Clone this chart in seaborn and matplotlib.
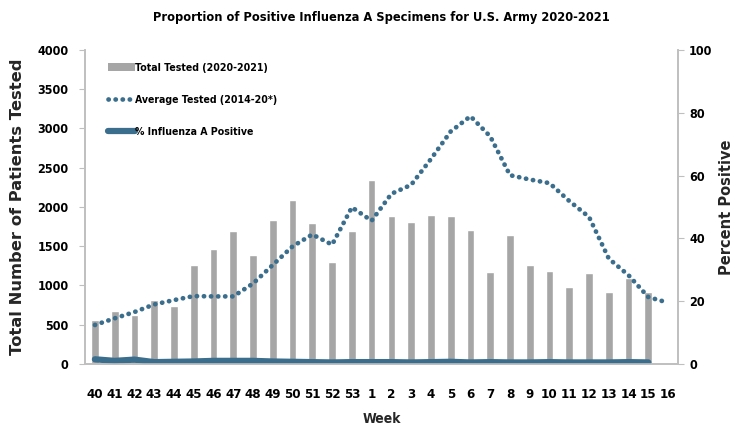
import numpy as np
import pandas as pd
import matplotlib
matplotlib.use('Agg')
import matplotlib.pyplot as plt
from matplotlib.patches import Patch
from matplotlib.lines import Line2D
import seaborn as sns

# Week labels for the 2020-2021 season
weeks = ['40', '41', '42', '43', '44', '45', '46', '47', '48', '49', '50', '51', '52', '53',
         '1', '2', '3', '4', '5', '6', '7', '8', '9', '10', '11', '12', '13', '14', '15', '16']

# Total tested 2020-2021 (no bar for week 16)
total_tested = [557, 671, 624, 810, 734, 1257, 1468, 1696, 1384, 1835, 2093, 1793, 1295, 1700,
                2338, 1886, 1814, 1903, 1882, 1709, 1177, 1641, 1266, 1190, 987, 1160, 911, 1101, 915,
                np.nan]

# Average tested 2014-20
avg_tested = [497, 582, 662, 759, 814, 865, 861, 861, 1025, 1262, 1498, 1650, 1520, 1996,
              1825, 2168, 2282, 2611, 2962, 3156, 2899, 2405, 2350, 2304, 2076, 1873, 1342, 1130, 852,
              781]

# % Influenza A positive (weeks 40-15)
pct_pos = [1.5, 1.0, 1.4, 0.6, 0.7, 0.8, 1.0, 1.0, 1.0, 0.8, 0.7, 0.6, 0.5, 0.6,
           0.6, 0.6, 0.5, 0.6, 0.7, 0.5, 0.6, 0.5, 0.5, 0.6, 0.5, 0.5, 0.5, 0.6, 0.5,
           np.nan]

df = pd.DataFrame({'week': weeks, 'pos': np.arange(len(weeks)),
                   'total': total_tested, 'avg': avg_tested, 'pct': pct_pos})

sns.set_style('white')
plt.rcParams['font.family'] = ['DejaVu Sans']
plt.rcParams['font.stretch'] = 'condensed'
plt.rcParams['text.color'] = 'black'
plt.rcParams['xtick.color'] = 'black'
plt.rcParams['ytick.color'] = 'black'

bar_color = '#A6A6A6'
line_color = '#3B6E8C'
spine_color = '#BFBFBF'

fig = plt.figure(figsize=(7.38, 4.32), dpi=100)
ax = fig.add_axes([0.1152, 0.1574, 0.8035, 0.7269])

sns.barplot(data=df, x='pos', y='total', color=bar_color, width=0.39, saturation=1,
            order=list(range(len(weeks))), ax=ax)
sns.lineplot(data=df, x='pos', y='avg', color=line_color, lw=3.4,
             linestyle=(0, (0.05, 1.45)), dash_capstyle='round', ax=ax)

ax2 = ax.twinx()
sns.lineplot(data=df, x='pos', y='pct', color=line_color, lw=4.5,
             solid_capstyle='round', ax=ax2)

ax.set_xlim(-0.5, len(weeks) - 0.5)
ax.set_ylim(0, 4000)
ax2.set_ylim(0, 100)
ax.set_yticks(np.arange(0, 4001, 500))
ax2.set_yticks(np.arange(0, 101, 20))

ax.set_xticks(np.arange(len(weeks)))
ax.set_xticklabels(weeks, fontsize=9.5, fontweight='bold')
ax.set_xticks(np.arange(-0.5, len(weeks)), minor=True)
ax.tick_params(axis='x', which='major', length=0, pad=17)
ax.tick_params(axis='x', which='minor', length=5, color=spine_color, width=1, direction='out')
ax.tick_params(axis='y', length=4, color=spine_color, direction='out', pad=8)
ax2.tick_params(axis='y', length=4, color=spine_color, direction='out', pad=4)

for lab in ax.get_yticklabels() + ax2.get_yticklabels():
    lab.set_fontweight('bold')
    lab.set_fontsize(9)

for a in (ax, ax2):
    a.spines['top'].set_visible(False)
    for s in ('left', 'right', 'bottom'):
        a.spines[s].set_color(spine_color)
        a.spines[s].set_linewidth(1.2)

ax.set_xlabel('Week', fontsize=10, fontweight='bold', labelpad=8)
ax.set_ylabel('Total Number of Patients Tested', fontsize=11.8, fontweight='bold',
              fontstretch='normal', labelpad=9)
ax2.set_ylabel('Percent Positive', fontsize=10.5, fontweight='bold',
               fontstretch='normal', labelpad=5)

ax.set_title('Proportion of Positive Influenza A Specimens for U.S. Army 2020-2021',
             fontsize=9.2, fontweight='bold', pad=21)

handles = [Patch(facecolor=bar_color, edgecolor='none'),
           Line2D([], [], color=line_color, lw=3.4, linestyle=(0, (0.05, 1.45)),
                  dash_capstyle='round'),
           Line2D([], [], color=line_color, lw=4.5, solid_capstyle='round')]
labels = ['Total Tested (2020-2021)', 'Average Tested (2014-20*)', '% Influenza A Positive']
leg = ax2.legend(handles, labels, loc='upper left', bbox_to_anchor=(0.022, 0.99), frameon=False,
                 labelspacing=2.1, handlelength=2.6, handletextpad=0.0,
                 prop={'weight': 'bold', 'size': 7.6, 'stretch': 'condensed'})

fig.savefig('out.png', dpi=100)
